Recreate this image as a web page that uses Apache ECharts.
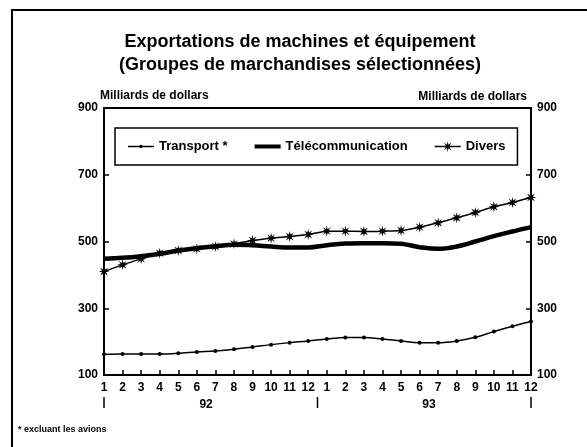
<!DOCTYPE html>
<html>
<head>
<meta charset="utf-8">
<script src="https://cdn.jsdelivr.net/npm/echarts@6/dist/echarts.min.js"></script>
<style>
html,body{margin:0;padding:0;background:#fff;}
#chart{width:587px;height:447px;}
</style>
</head>
<body>
<div id="chart"></div>
<script>
var months = ['1','2','3','4','5','6','7','8','9','10','11','12','1','2','3','4','5','6','7','8','9','10','11','12'];
var years = ['92','93'];
var transport = [162,163,163,163,165,169,172,177,184,191,197,202,208,212,212,208,202,197,197,202,213,230,246,260];
var telecom = [448,451,456,463,473,480,486,490,489,485,482,482,489,494,495,495,493,483,478,485,500,516,530,543];
var divers = [410,430,448,465,473,478,485,493,503,510,515,521,531,531,530,531,533,543,556,571,587,604,617,632];
var yTicks = [100,300,500,700,900];

var FONT = '"Liberation Sans", Arial, sans-serif';

// asterisk symbol path
function starPts(cx, cy, R, r) {
  var pts = [];
  for (var k = 0; k < 16; k++) {
    var a = k * Math.PI / 8 - Math.PI / 2;
    var rr = (k % 2 === 0) ? R : r;
    pts.push((cx + rr * Math.cos(a)).toFixed(2) + ' ' + (cy + rr * Math.sin(a)).toFixed(2));
  }
  return 'M' + pts.join(' L') + ' Z';
}
var starPath = 'path://' + starPts(10, 10, 10, 3.8);

// legend icons in a 26x12 box; tiny corner squares fix the bounding box
var corners = ' M0 0 L0.01 0 L0.01 0.01 Z M26 12 L25.99 12 L25.99 11.99 Z';
var iconTransport = 'path://M0 5.3 L26 5.3 L26 6.7 L0 6.7 Z M11.8 4.6 L14.2 4.6 L14.2 7.4 L11.8 7.4 Z' + corners;
var iconTelecom = 'path://M0 4 L26 4 L26 8 L0 8 Z' + corners;
var iconDivers = 'path://M0 5.3 L26 5.3 L26 6.7 L0 6.7 Z ' + starPts(13, 6, 5.5, 2) + corners;

var chart = echarts.init(document.getElementById('chart'), null, {renderer: 'canvas'});

var yAxisCommon = {
  type: 'value', min: yTicks[0], max: yTicks[yTicks.length - 1], interval: 200,
  splitLine: {show: false},
  axisLine: {show: true, lineStyle: {color: '#000', width: 2}},
  axisTick: {show: true, inside: true, length: 5, lineStyle: {color: '#000', width: 1.5}},
  axisLabel: {color: '#000', fontFamily: FONT, fontWeight: 'bold', fontSize: 12, margin: 6},
  nameTextStyle: {color: '#000', fontFamily: FONT, fontSize: 12, fontWeight: 'bold'},
  nameGap: 5
};

var option = {
  animation: false,
  backgroundColor: '#fff',
  title: [{
    text: 'Exportations de machines et équipement\n(Groupes de marchandises sélectionnées)',
    left: 295, top: 26, textAlign: 'center',
    textStyle: {color: '#000', fontFamily: FONT, fontWeight: 'bold', fontSize: 18, lineHeight: 23}
  }],
  legend: {
    left: 115, top: 128,
    padding: [12, 12, 12, 13],
    borderColor: '#000', borderWidth: 1.5,
    itemWidth: 26, itemHeight: 12, itemGap: 27,
    textStyle: {color: '#000', fontFamily: FONT, fontWeight: 'bold', fontSize: 13},
    data: [
      {name: 'Transport *', icon: iconTransport, itemStyle: {color: '#000'}},
      {name: 'Télécommunication', icon: iconTelecom, itemStyle: {color: '#000'}},
      {name: 'Divers', icon: iconDivers, itemStyle: {color: '#000'}}
    ]
  },
  grid: {left: 104, right: 56, top: 108, bottom: 72, show: true, borderColor: '#000', borderWidth: 2, backgroundColor: 'transparent'},
  xAxis: {
    type: 'category', data: months, boundaryGap: false,
    axisLine: {show: true, lineStyle: {color: '#000', width: 2}},
    axisTick: {show: true, inside: true, length: 5, alignWithLabel: true, lineStyle: {color: '#000', width: 1.5}},
    axisLabel: {color: '#000', fontFamily: FONT, fontWeight: 'bold', fontSize: 12, margin: 7, interval: 0},
    splitLine: {show: false}
  },
  yAxis: [
    Object.assign({}, yAxisCommon, {position: 'left', name: 'Milliards de dollars', nameLocation: 'end',
      nameTextStyle: Object.assign({}, yAxisCommon.nameTextStyle, {align: 'left', padding: [0, 0, 0, -4]})}),
    Object.assign({}, yAxisCommon, {position: 'right', name: 'Milliards de dollars', nameLocation: 'end',
      nameTextStyle: Object.assign({}, yAxisCommon.nameTextStyle, {align: 'right', padding: [0, 4, 0, 0]})})
  ],
  series: [
    {name: 'Transport *', type: 'line', data: transport, smooth: 0.4,
     symbol: 'circle', symbolSize: 4, showSymbol: true,
     lineStyle: {color: '#000', width: 1.5}, itemStyle: {color: '#000'}},
    {name: 'Télécommunication', type: 'line', data: telecom, smooth: 0.4,
     symbol: 'none', lineStyle: {color: '#000', width: 4.5}, itemStyle: {color: '#000'}},
    {name: 'Divers', type: 'line', data: divers, smooth: 0.2,
     symbol: starPath, symbolSize: 11, showSymbol: true,
     lineStyle: {color: '#000', width: 1.5}, itemStyle: {color: '#000'}}
  ]
};
chart.setOption(option);

// decorations: frame, year labels, separators, footnote
var p0 = chart.convertToPixel({xAxisIndex: 0}, 0);
var p5 = chart.convertToPixel({xAxisIndex: 0}, 5);
var p6 = chart.convertToPixel({xAxisIndex: 0}, 6);
var p11 = chart.convertToPixel({xAxisIndex: 0}, 11);
var p12 = chart.convertToPixel({xAxisIndex: 0}, 12);
var p17 = chart.convertToPixel({xAxisIndex: 0}, 17);
var p18 = chart.convertToPixel({xAxisIndex: 0}, 18);
var p23 = chart.convertToPixel({xAxisIndex: 0}, 23);
var yBase = chart.convertToPixel({yAxisIndex: 0}, yTicks[0]);

var sepTop = yBase + 22, sepBot = yBase + 33;
function sep(x) {
  return {type: 'line', shape: {x1: x, y1: sepTop, x2: x, y2: sepBot}, style: {stroke: '#000', lineWidth: 1.5}};
}
function yearText(x, t) {
  return {type: 'text', x: x, y: yBase + 30, style: {text: t, fill: '#000', font: 'bold 12px ' + FONT, align: 'center', verticalAlign: 'middle'}};
}

chart.setOption({
  graphic: [
    {type: 'rect', shape: {x: 12, y: 10, width: 600, height: 500}, style: {fill: 'none', stroke: '#000', lineWidth: 2}, silent: true},
    sep(p0), sep((p11 + p12) / 2), sep(p23),
    yearText((p5 + p6) / 2, years[0]),
    yearText((p17 + p18) / 2, years[1]),
    {type: 'text', x: 18, y: 430, style: {text: '* excluant les avions', fill: '#000', font: 'bold 9px ' + FONT, verticalAlign: 'middle'}}
  ]
});
</script>
</body>
</html>
